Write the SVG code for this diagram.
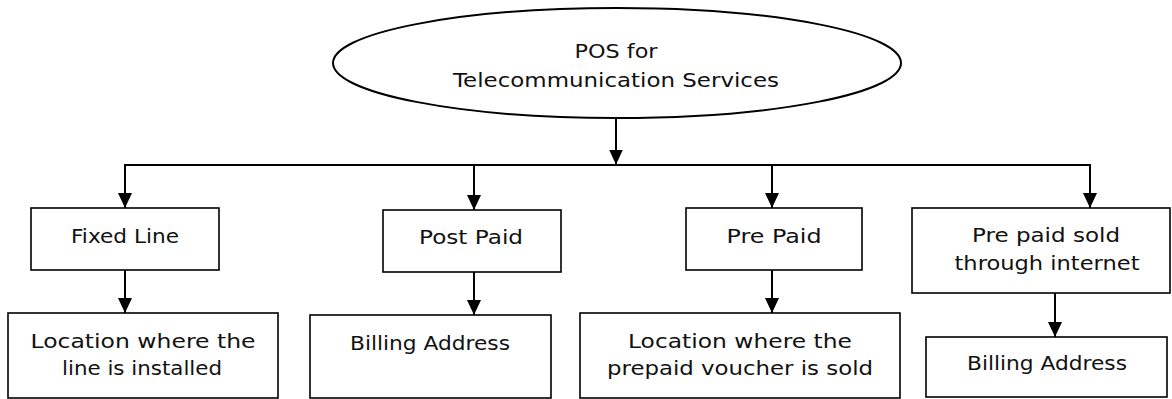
<svg xmlns="http://www.w3.org/2000/svg" width="1172" height="399" viewBox="0 0 1172 399">
  <style>
    .box { fill: #ffffff; stroke: #000000; stroke-width: 1.6; }
    .lbl { font-family: "DejaVu Sans", "Liberation Sans", sans-serif; font-size: 20px; fill: #111111; text-anchor: middle; }
    .con { stroke: #000000; stroke-width: 2; fill: none; }
  </style>
  <defs>
    <marker id="arrow" markerUnits="userSpaceOnUse" markerWidth="16" markerHeight="16" refX="15" refY="7" orient="auto">
      <path d="M0,0 L15,7 L0,14 z" fill="#000000"/>
    </marker>
  </defs>
  <rect width="1172" height="399" fill="#ffffff"/>

  <g id="connectors">
    <line class="con" x1="616" y1="118" x2="616" y2="164.5" marker-end="url(#arrow)"/>
    <line class="con" x1="124" y1="165" x2="1091" y2="165"/>
    <line class="con" x1="125" y1="165" x2="125" y2="208" marker-end="url(#arrow)"/>
    <line class="con" x1="474" y1="165" x2="474" y2="210" marker-end="url(#arrow)"/>
    <line class="con" x1="772" y1="165" x2="772" y2="208" marker-end="url(#arrow)"/>
    <line class="con" x1="1090" y1="165" x2="1090" y2="208" marker-end="url(#arrow)"/>
    <line class="con" x1="125" y1="270" x2="125" y2="313" marker-end="url(#arrow)"/>
    <line class="con" x1="474" y1="272" x2="474" y2="315" marker-end="url(#arrow)"/>
    <line class="con" x1="772" y1="270" x2="772" y2="313" marker-end="url(#arrow)"/>
    <line class="con" x1="1055" y1="293" x2="1055" y2="337" marker-end="url(#arrow)"/>
  </g>

  <g id="root">
    <ellipse cx="617" cy="63" rx="284" ry="55" fill="#ffffff" stroke="#000000" stroke-width="2"/>
    <text class="lbl" x="616" y="57.5" textLength="83" lengthAdjust="spacingAndGlyphs">POS for</text>
    <text class="lbl" x="616" y="86.5" textLength="326" lengthAdjust="spacingAndGlyphs">Telecommunication Services</text>
  </g>

  <g id="fixed-line">
    <rect class="box" x="31" y="208" width="188" height="62"/>
    <text class="lbl" x="125" y="243" textLength="108" lengthAdjust="spacingAndGlyphs">Fixed Line</text>
  </g>
  <g id="fixed-line-location">
    <rect class="box" x="8" y="313" width="270" height="85"/>
    <text class="lbl" x="143" y="348" textLength="225" lengthAdjust="spacingAndGlyphs">Location where the</text>
    <text class="lbl" x="142" y="375" textLength="160" lengthAdjust="spacingAndGlyphs">line is installed</text>
  </g>

  <g id="post-paid">
    <rect class="box" x="383" y="210" width="178" height="62"/>
    <text class="lbl" x="471" y="244" textLength="104" lengthAdjust="spacingAndGlyphs">Post Paid</text>
  </g>
  <g id="post-paid-billing">
    <rect class="box" x="310" y="315" width="241" height="83"/>
    <text class="lbl" x="430" y="350" textLength="160" lengthAdjust="spacingAndGlyphs">Billing Address</text>
  </g>

  <g id="pre-paid">
    <rect class="box" x="686" y="208" width="176" height="62"/>
    <text class="lbl" x="774" y="243" textLength="95" lengthAdjust="spacingAndGlyphs">Pre Paid</text>
  </g>
  <g id="pre-paid-location">
    <rect class="box" x="580" y="313" width="320" height="85"/>
    <text class="lbl" x="740" y="348" textLength="224" lengthAdjust="spacingAndGlyphs">Location where the</text>
    <text class="lbl" x="740" y="375" textLength="266" lengthAdjust="spacingAndGlyphs">prepaid voucher is sold</text>
  </g>

  <g id="pre-paid-internet">
    <rect class="box" x="912" y="208" width="258" height="85"/>
    <text class="lbl" x="1046" y="242" textLength="148" lengthAdjust="spacingAndGlyphs">Pre paid sold</text>
    <text class="lbl" x="1047" y="270" textLength="185" lengthAdjust="spacingAndGlyphs">through internet</text>
  </g>
  <g id="pre-paid-internet-billing">
    <rect class="box" x="926" y="337" width="241" height="60"/>
    <text class="lbl" x="1047" y="370" textLength="160" lengthAdjust="spacingAndGlyphs">Billing Address</text>
  </g>
</svg>
